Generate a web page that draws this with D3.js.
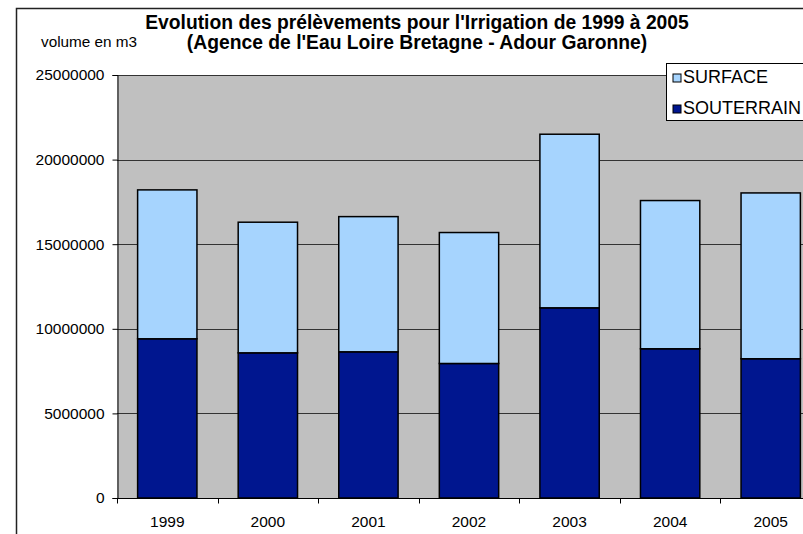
<!DOCTYPE html>
<html>
<head>
<meta charset="utf-8">
<script src="https://cdn.jsdelivr.net/npm/d3@7"></script>
<style>
  body { margin: 0; background: #fff; }
  text { font-family: "Liberation Sans", Arial, sans-serif; fill: #000; }
</style>
</head>
<body>
<div id="chart-area"></div>
<script>
// data
var annees = ["1999", "2000", "2001", "2002", "2003", "2004", "2005"];
var souterrain = [9410000, 8580000, 8640000, 7950000, 11240000, 8820000, 8230000];
var surface = [8800000, 7720000, 7990000, 7740000, 10260000, 8760000, 9800000];
var yTicks = [0, 5000000, 10000000, 15000000, 20000000, 25000000];
var series = ["souterrain", "surface"];
var legendLabels = ["SURFACE", "SOUTERRAIN"];

var width = 803, height = 534;
var plot = {left: 117, right: 821, top: 75, bottom: 498};

var colors = {surface: "#a6d4fe", souterrain: "#00168f"};

var svg = d3.select("#chart-area")
  .append("svg")
    .attr("width", width)
    .attr("height", height);

// outer chart frame (runs off the right / bottom edge)
svg.append("rect")
  .attr("x", 16.5).attr("y", 8.5)
  .attr("width", 900).attr("height", 700)
  .attr("fill", "#fff")
  .attr("stroke", "#222")
  .attr("stroke-width", 1.5);

var x = d3.scaleBand()
  .domain(annees)
  .range([plot.left, plot.right])
  .paddingInner(0.41)
  .paddingOuter(0.205);

var y = d3.scaleLinear()
  .domain([0, 25000000])
  .range([plot.bottom, plot.top]);

// plot background
svg.append("rect")
  .attr("x", plot.left).attr("y", plot.top)
  .attr("width", plot.right - plot.left)
  .attr("height", plot.bottom - plot.top)
  .attr("fill", "#c0c0c0");

// gridlines
svg.append("g")
  .selectAll("line")
  .data(yTicks.slice(1))
  .enter().append("line")
    .attr("x1", plot.left).attr("x2", plot.right)
    .attr("y1", function(d){ return Math.round(y(d)) + 0.5; })
    .attr("y2", function(d){ return Math.round(y(d)) + 0.5; })
    .attr("stroke", "#333")
    .attr("stroke-width", 1);

// stacked bars
var table = annees.map(function(a, i){
  return {annee: a, souterrain: souterrain[i], surface: surface[i]};
});
var stacked = d3.stack().keys(series)(table);

svg.append("g")
  .selectAll("g")
  .data(stacked)
  .enter().append("g")
    .attr("fill", function(d){ return colors[d.key]; })
  .selectAll("rect")
  .data(function(d){ return d; })
  .enter().append("rect")
    .attr("x", function(d){ return x(d.data.annee); })
    .attr("y", function(d){ return y(d[1]); })
    .attr("width", x.bandwidth())
    .attr("height", function(d){ return y(d[0]) - y(d[1]); })
    .attr("stroke", "#000")
    .attr("stroke-width", 1.5);

// Y axis
var yAxis = svg.append("g")
  .attr("transform", "translate(" + (plot.left + 0.5) + ",0)")
  .call(d3.axisLeft(y).tickValues(yTicks).tickSize(5).tickPadding(8).tickFormat(d3.format("d")));
yAxis.select(".domain").attr("stroke", "#000");
yAxis.selectAll(".tick line").attr("stroke", "#000");
yAxis.selectAll("text")
  .attr("font-size", "15.5px")
  .attr("font-family", "Liberation Sans, Arial, sans-serif")
  .attr("fill", "#000");

// X axis: ticks sit on the category boundaries
var xAxisG = svg.append("g")
  .attr("transform", "translate(0," + (plot.bottom + 0.5) + ")");
xAxisG.append("line")
  .attr("x1", plot.left).attr("x2", plot.right)
  .attr("stroke", "#000");
var bounds = annees.map(function(a){ return x(a) - x.step() * 0.205; });
bounds.push(plot.right);
xAxisG.selectAll(".xtick")
  .data(bounds)
  .enter().append("line")
    .attr("class", "xtick")
    .attr("x1", function(d){ return Math.round(d) + 0.5; })
    .attr("x2", function(d){ return Math.round(d) + 0.5; })
    .attr("y1", 0).attr("y2", 5)
    .attr("stroke", "#000");
xAxisG.selectAll(".xlabel")
  .data(annees)
  .enter().append("text")
    .attr("class", "xlabel")
    .attr("x", function(d){ return x(d) + x.bandwidth() / 2; })
    .attr("y", 28.5)
    .attr("text-anchor", "middle")
    .attr("font-size", "15.5px")
    .text(function(d){ return d; });

// title
svg.append("text")
  .attr("x", 417).attr("y", 29)
  .attr("text-anchor", "middle")
  .attr("font-size", "19.3px")
  .attr("font-weight", "bold")
  .text("Evolution des prélèvements pour l'Irrigation de 1999 à 2005");
svg.append("text")
  .attr("x", 417).attr("y", 48.5)
  .attr("text-anchor", "middle")
  .attr("font-size", "19.3px")
  .attr("font-weight", "bold")
  .text("(Agence de l'Eau Loire Bretagne - Adour Garonne)");

// Y label
svg.append("text")
  .attr("x", 41).attr("y", 46.5)
  .attr("font-size", "15.3px")
  .text("volume en m3");

// legend
var legend = svg.append("g");
legend.append("rect")
  .attr("x", 666.5).attr("y", 63.5)
  .attr("width", 200).attr("height", 57)
  .attr("fill", "#fff")
  .attr("stroke", "#000");

legendLabels.forEach(function(label, i){
  var key = label === "SURFACE" ? "surface" : "souterrain";
  var row = legend.append("g")
    .attr("transform", "translate(0," + (i * 31) + ")");
  row.append("rect")
    .attr("x", 673).attr("y", 74)
    .attr("width", 8).attr("height", 8)
    .attr("fill", colors[key])
    .attr("stroke", "#000");
  row.append("text")
    .attr("x", 683).attr("y", 83)
    .attr("font-size", "18px")
    .text(label);
});
</script>
</body>
</html>
